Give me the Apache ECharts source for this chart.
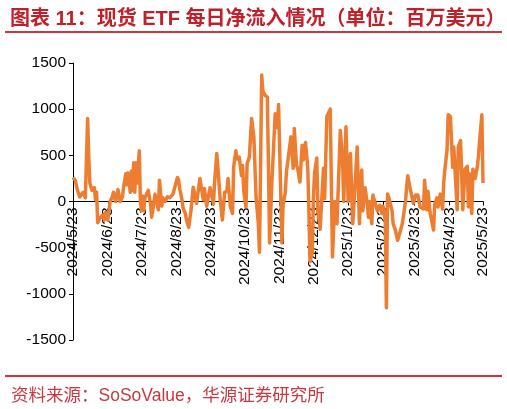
<!DOCTYPE html>
<html><head><meta charset="utf-8">
<script src="https://cdn.jsdelivr.net/npm/echarts@6/dist/echarts.min.js"></script>
<style>html,body{margin:0;padding:0;background:#fff}#c{width:507px;height:409px}</style>
</head><body><div id="c"></div>
<script>
// Tick labels on the x axis (23rd of each month)
const tickLabels = ['2024/5/23','2024/6/23','2024/7/23','2024/8/23','2024/9/23','2024/10/23','2024/11/23','2024/12/23','2025/1/23','2025/2/23','2025/3/23','2025/4/23','2025/5/23'];
const yTicks = [-1500, -1000, -500, 0, 500, 1000, 1500];

// Daily net inflow (million USD)
const flowDates = [
'2024/5/23','2024/5/25','2024/5/27','2024/5/29','2024/6/1','2024/6/3','2024/6/5','2024/6/6','2024/6/7','2024/6/9',
'2024/6/11','2024/6/12','2024/6/13','2024/6/14','2024/6/16','2024/6/18','2024/6/20','2024/6/21','2024/6/22','2024/6/23',
'2024/6/25','2024/6/27','2024/6/28','2024/6/30','2024/7/2','2024/7/4','2024/7/6','2024/7/7','2024/7/9','2024/7/10',
'2024/7/11','2024/7/13','2024/7/14','2024/7/15','2024/7/16','2024/7/17','2024/7/18','2024/7/19','2024/7/21','2024/7/22',
'2024/7/23','2024/7/24','2024/7/25','2024/7/26','2024/7/29','2024/7/31','2024/8/1','2024/8/2','2024/8/4','2024/8/6',
'2024/8/7','2024/8/8','2024/8/10','2024/8/11','2024/8/13','2024/8/15','2024/8/17','2024/8/20','2024/8/22','2024/8/24',
'2024/8/25','2024/8/26','2024/8/28','2024/8/29','2024/8/31','2024/9/1','2024/9/3','2024/9/5','2024/9/7','2024/9/9',
'2024/9/10','2024/9/11','2024/9/13','2024/9/14','2024/9/16','2024/9/17','2024/9/18','2024/9/19','2024/9/20','2024/9/22',
'2024/9/24','2024/9/25','2024/9/26','2024/9/28','2024/9/30','2024/10/1','2024/10/3','2024/10/4','2024/10/5','2024/10/7',
'2024/10/8','2024/10/10','2024/10/12','2024/10/13','2024/10/15','2024/10/16','2024/10/18','2024/10/20','2024/10/21','2024/10/22',
'2024/10/24','2024/10/25','2024/10/27','2024/10/28','2024/10/29','2024/10/30','2024/10/31','2024/11/2','2024/11/3','2024/11/4',
'2024/11/5','2024/11/7','2024/11/8','2024/11/10','2024/11/12','2024/11/13','2024/11/14','2024/11/16','2024/11/19','2024/11/21',
'2024/11/22','2024/11/23','2024/11/25','2024/11/26','2024/11/28','2024/11/29','2024/11/30','2024/12/3','2024/12/5','2024/12/6',
'2024/12/8','2024/12/9','2024/12/11','2024/12/13','2024/12/14','2024/12/16','2024/12/18','2024/12/19','2024/12/20','2024/12/22',
'2024/12/23','2024/12/24','2024/12/26','2024/12/27','2024/12/29','2025/1/1','2025/1/2','2025/1/4','2025/1/7','2025/1/9',
'2025/1/10','2025/1/11','2025/1/13','2025/1/16','2025/1/18','2025/1/19','2025/1/21','2025/1/23','2025/1/25','2025/1/26',
'2025/1/27','2025/1/28','2025/1/31','2025/2/2','2025/2/3','2025/2/4','2025/2/5','2025/2/7','2025/2/9','2025/2/10',
'2025/2/11','2025/2/13','2025/2/14','2025/2/16','2025/2/18','2025/2/20','2025/2/22','2025/2/23','2025/2/25','2025/2/26',
'2025/2/27','2025/2/28','2025/3/3','2025/3/4','2025/3/6','2025/3/8','2025/3/9','2025/3/10','2025/3/12','2025/3/13',
'2025/3/15','2025/3/16','2025/3/17','2025/3/19','2025/3/21','2025/3/22','2025/3/24','2025/3/25','2025/3/26','2025/3/28',
'2025/3/31','2025/4/1','2025/4/3','2025/4/4','2025/4/6','2025/4/9','2025/4/10','2025/4/12','2025/4/13','2025/4/15',
'2025/4/17','2025/4/18','2025/4/19','2025/4/21','2025/4/22','2025/4/24','2025/4/26','2025/4/27','2025/4/28','2025/4/30',
'2025/5/1','2025/5/3','2025/5/4','2025/5/5','2025/5/7','2025/5/9','2025/5/10','2025/5/11','2025/5/13','2025/5/14',
'2025/5/16','2025/5/18','2025/5/19','2025/5/20','2025/5/22','2025/5/23'
];
const flowValues = [
260,230,120,50,100,40,900,500,200,120,
150,20,100,-230,-180,-150,-200,-120,-100,-200,
0,50,100,0,130,0,50,150,300,180,
310,100,330,120,420,100,420,200,550,0,
-100,60,-100,40,120,-25,-170,-100,80,-25,
-90,230,-50,40,0,50,40,80,170,260,
230,140,20,-70,-130,-200,-280,-100,155,40,
-20,0,250,260,20,140,150,-50,-60,150,
40,-30,200,520,200,30,-200,-50,100,110,
250,-50,-130,370,550,460,480,280,390,110,
-60,410,480,470,900,920,700,40,-100,-240,
-550,1370,1200,1150,1130,400,-450,200,950,800,
1050,1040,-450,-40,100,320,320,700,360,790,
390,360,210,610,450,640,360,-100,-650,-550,
30,300,470,-100,-300,360,30,920,1000,-600,
-300,0,-240,770,440,0,810,0,520,500,
-240,-50,590,-240,100,340,-100,150,-20,-170,
0,-240,70,-20,-100,-40,-130,-50,-200,-1150,
80,50,-100,-240,-310,-420,-380,-390,-250,-170,
0,150,280,150,40,-20,70,50,70,-60,
-80,230,-90,110,-130,-310,-30,40,-60,80,
-80,200,340,560,940,920,370,590,370,-90,
590,660,300,-90,350,380,-60,300,-130,350,
250,380,500,660,940,200
];

// Calendar-day categories spanning the first and last tick labels
function parseD(s){const p=s.split('/').map(Number);return Date.UTC(p[0],p[1]-1,p[2]);}
function fmt(t){const d=new Date(t);return d.getUTCFullYear()+'/'+(d.getUTCMonth()+1)+'/'+d.getUTCDate();}
const categories = [];
for (let t = parseD(tickLabels[0]); t <= parseD(tickLabels[tickLabels.length-1]); t += 86400000) categories.push(fmt(t));
const tickSet = new Set(tickLabels);

const GRID_TOP = 63, GRID_BOTTOM = 69, H = 409;
const plotH = H - GRID_TOP - GRID_BOTTOM;

const chart = echarts.init(document.getElementById('c'), null, {renderer:'canvas'});
const FONT = '"Liberation Sans", Arial, "Noto Sans CJK SC", sans-serif';
chart.setOption({
  animation:false,
  backgroundColor:'#fff',
  title:[{
    text:'图表 11：现货 ETF 每日净流入情况（单位：百万美元）',
    left:5, top:4,
    textStyle:{color:'#C0202A', fontSize:20, fontWeight:'bold', fontFamily:'"Liberation Sans", "Noto Sans CJK SC", sans-serif'}
  },{
    text:'资料来源：SoSoValue，华源证券研究所',
    left:6, top:382,
    textStyle:{color:'#C8393F', fontSize:17.5, fontWeight:'normal', fontFamily:'"Liberation Sans", "Noto Sans CJK SC", sans-serif'}
  }],
  graphic:[
    {type:'rect', shape:{x:5,y:31,width:497,height:2}, style:{fill:'#D0353B'}},
    {type:'rect', shape:{x:5,y:375,width:497,height:2}, style:{fill:'#D0353B'}}
  ],
  grid:{left:73, right:24, top:GRID_TOP, bottom:GRID_BOTTOM, containLabel:false, outerBoundsMode:'none'},
  xAxis:{
    type:'category', data:categories, boundaryGap:false,
    position:'bottom', offset:-plotH/2,
    axisLine:{show:true, onZero:false, lineStyle:{color:'#000', width:1}},
    axisTick:{show:true, length:4, lineStyle:{color:'#000'}, interval:(i,v)=>tickSet.has(v)},
    axisLabel:{show:true, rotate:90, margin:6, color:'#000', fontSize:15.5, fontFamily:FONT,
      interval:(i,v)=>tickSet.has(v)},
    splitLine:{show:false}
  },
  yAxis:{
    type:'value', min:yTicks[0], max:yTicks[yTicks.length-1], interval:500,
    axisLine:{show:true, lineStyle:{color:'#000', width:1}},
    axisTick:{show:true, length:4, lineStyle:{color:'#000'}},
    axisLabel:{color:'#000', fontSize:15.5, fontFamily:FONT, margin:7, formatter:(v)=>String(v)},
    splitLine:{show:false}
  },
  series:[{
    type:'line',
    data:flowDates.map((d,i)=>[d, flowValues[i]]),
    showSymbol:false, symbol:'none',
    lineStyle:{color:'#ED7D31', width:3.5, join:'round'},
    z:1
  }]
});
</script></body></html>
